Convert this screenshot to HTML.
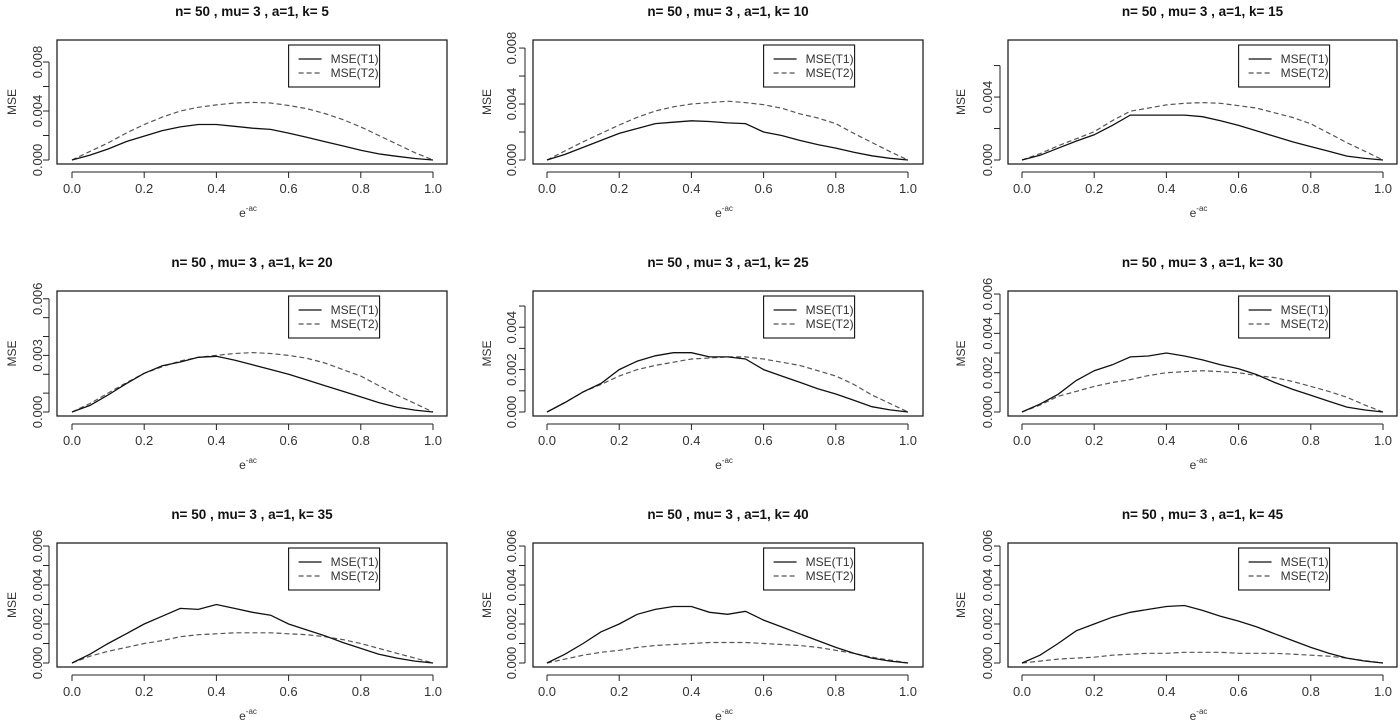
<!DOCTYPE html>
<html><head><meta charset="utf-8"><style>
html,body{margin:0;padding:0;background:#fff;}
svg{display:block;font-family:"Liberation Sans",Arial,sans-serif;}
</style></head><body>
<svg id="fig" width="1400" height="727" viewBox="0 0 1400 727"></svg>
<script>
const kValues = [5,10,15,20,25,30,35,40,45];
const xGrid = [0,0.05,0.1,0.15,0.2,0.25,0.3,0.35,0.4,0.45,0.5,0.55,0.6,0.65,0.7,0.75,0.8,0.85,0.9,0.95,1];
// values in units of 0.001
const t1Series = [
 [0,0.4,0.9,1.5,1.95,2.4,2.7,2.9,2.9,2.75,2.6,2.5,2.2,1.85,1.5,1.15,0.8,0.5,0.3,0.12,0],
 [0,0.4,0.9,1.4,1.9,2.25,2.6,2.7,2.8,2.75,2.65,2.6,2.0,1.75,1.4,1.1,0.85,0.55,0.3,0.12,0],
 [0,0.3,0.75,1.2,1.6,2.2,2.85,2.85,2.85,2.85,2.75,2.5,2.2,1.85,1.5,1.15,0.85,0.55,0.25,0.1,0],
 [0,0.35,0.9,1.5,2.05,2.45,2.65,2.9,2.95,2.75,2.5,2.25,2.0,1.7,1.4,1.1,0.8,0.5,0.25,0.1,0],
 [0,0.45,0.95,1.35,2.0,2.4,2.65,2.8,2.8,2.6,2.6,2.5,2.0,1.7,1.4,1.1,0.85,0.55,0.25,0.1,0],
 [0,0.4,0.9,1.6,2.1,2.4,2.8,2.85,3.0,2.85,2.65,2.4,2.2,1.9,1.5,1.15,0.85,0.55,0.25,0.1,0],
 [0,0.45,1.0,1.5,2.0,2.4,2.8,2.75,3.0,2.8,2.6,2.45,2.0,1.7,1.4,1.05,0.75,0.45,0.25,0.1,0],
 [0,0.45,1.0,1.6,2.0,2.5,2.75,2.9,2.9,2.6,2.5,2.65,2.2,1.85,1.5,1.15,0.8,0.5,0.25,0.1,0],
 [0,0.4,1.0,1.65,2.0,2.35,2.6,2.75,2.9,2.95,2.7,2.4,2.15,1.85,1.5,1.15,0.8,0.5,0.25,0.1,0]
];
const t2Series = [
 [0,0.7,1.4,2.2,2.9,3.5,4.0,4.3,4.5,4.65,4.7,4.65,4.45,4.2,3.8,3.3,2.7,2.0,1.3,0.6,0],
 [0,0.65,1.3,1.9,2.5,3.05,3.5,3.8,4.0,4.1,4.2,4.1,3.95,3.7,3.3,3.0,2.6,1.9,1.25,0.6,0],
 [0,0.4,0.9,1.35,1.8,2.5,3.1,3.3,3.5,3.6,3.65,3.6,3.45,3.3,3.0,2.7,2.3,1.7,1.1,0.55,0],
 [0,0.45,1.0,1.55,2.05,2.4,2.7,2.9,3.0,3.1,3.15,3.1,3.0,2.85,2.6,2.25,1.9,1.4,0.9,0.45,0],
 [0,0.45,0.95,1.3,1.7,2.0,2.2,2.35,2.5,2.55,2.6,2.6,2.5,2.35,2.2,1.95,1.7,1.3,0.8,0.4,0],
 [0,0.35,0.8,1.05,1.3,1.5,1.65,1.85,2.0,2.05,2.1,2.05,2.0,1.85,1.75,1.55,1.3,1.05,0.75,0.35,0],
 [0,0.35,0.6,0.8,1.0,1.15,1.35,1.45,1.5,1.55,1.55,1.55,1.5,1.45,1.35,1.2,1.0,0.75,0.5,0.25,0],
 [0,0.2,0.4,0.55,0.65,0.8,0.9,0.95,1.0,1.05,1.05,1.05,1.0,0.95,0.9,0.8,0.65,0.5,0.3,0.15,0],
 [0,0.1,0.2,0.25,0.3,0.4,0.45,0.5,0.5,0.55,0.55,0.55,0.5,0.5,0.5,0.45,0.4,0.35,0.25,0.12,0]
];
const yDomainMax = [9.47,8.29,7.37,6.2,5.52,5.95,5.95,5.95,5.95];
const yTickMax = [8,8,6,6,5,6,6,6,6];
const yTickStep = [2,2,2,1,1,1,1,1,1];
const yLabelEvery = [4,4,4,3,2,2,2,2,2];
const xTicks = [0,0.2,0.4,0.6,0.8,1.0];
const xTickLabels = ["0.0","0.2","0.4","0.6","0.8","1.0"];

const NS="http://www.w3.org/2000/svg";
const svg=document.getElementById('fig');
function mk(tag,attrs,parent){const e=document.createElementNS(NS,tag);for(const k in attrs)e.setAttribute(k,attrs[k]);(parent||svg).appendChild(e);return e;}
const colBox=[[57,447,72,433],[533,923,547,908],[1008,1397,1022,1383]];
const rowBox=[[40,164],[291,416],[543,667]];
const colMseX=[12,487,961], colTickLblX=[38,512,988];

for(let p=0;p<9;p++){
  const c=p%3,r=Math.floor(p/3);
  const [bl,br,x0,x1]=colBox[c];const [bt,bb]=rowBox[r];
  const y0=bb-4, yTopPix=bt+4;
  const xs=v=>x0+v*(x1-x0);
  const ys=v=>y0-v/yDomainMax[p]*(y0-yTopPix);
  const g=mk('g',{});
  
  
  const t=mk('text',{x:(bl+br)/2,y:bt-24,'text-anchor':'middle','font-size':'13.5','font-weight':'bold',fill:'#111'},g);
  t.textContent='n= 50 , mu= 3 , a=1, k= '+kValues[p];
  
  
  const box=mk('rect',{x:bl,y:bt,width:br-bl,height:bb-bt,fill:'none',stroke:'#111','stroke-width':1.2},g);
  
  
  const xa=mk('g',{},g);
  
  
  mk('line',{x1:xs(0),x2:xs(1),y1:bb+8,y2:bb+8,stroke:'#222'},xa);
  xTicks.forEach((v,i)=>{
    mk('line',{x1:xs(v),x2:xs(v),y1:bb+8,y2:bb+14,stroke:'#222'},xa);
    const tl=mk('text',{x:xs(v),y:bb+29,'text-anchor':'middle','font-size':'13',fill:'#333'},xa);
    tl.textContent=xTickLabels[i];
    
    
  });
  const xl=mk('text',{x:(bl+br)/2-4,y:bb+53,'text-anchor':'middle','font-size':'12',fill:'#333'},g);
  xl.innerHTML='e<tspan dy="-6" font-size="8">-ac</tspan>';
  
  
  const ya=mk('g',{},g);
  
  
  mk('line',{x1:bl-8,x2:bl-8,y1:ys(0),y2:ys(yTickMax[p]),stroke:'#222'},ya);
  for(let v=0;v<=yTickMax[p]+1e-9;v+=yTickStep[p]){
    mk('line',{x1:bl-14,x2:bl-8,y1:ys(v),y2:ys(v),stroke:'#222'},ya);
    if(Math.round(v)%yLabelEvery[p]===0){
      const yl=mk('text',{x:colTickLblX[c],y:ys(v),'text-anchor':'middle','font-size':'13',fill:'#333',transform:`rotate(-90 ${colTickLblX[c]} ${ys(v)})`,dy:'4'},ya);
      yl.textContent=(v/1000).toFixed(3);
      
      
    }
  }
  const ml=mk('text',{x:colMseX[c],y:(bt+bb)/2,'text-anchor':'middle','font-size':'12',fill:'#333',transform:`rotate(-90 ${colMseX[c]} ${(bt+bb)/2})`,dy:'4'},g);
  ml.textContent='MSE';
  
  
  const d1=xGrid.map((x,i)=>(i?'L':'M')+xs(x).toFixed(1)+','+ys(t1Series[p][i]).toFixed(1)).join('');
  const d2=xGrid.map((x,i)=>(i?'L':'M')+xs(x).toFixed(1)+','+ys(t2Series[p][i]).toFixed(1)).join('');
  const l2=mk('path',{d:d2,fill:'none',stroke:'#555','stroke-width':1.2,'stroke-dasharray':'5,3'},g);
  
  
  const l1=mk('path',{d:d1,fill:'none',stroke:'#111','stroke-width':1.3},g);
  
  
  const lx=x0+0.6*(x1-x0), ly=bt+5;
  const lg=mk('g',{},g);
  
  
  mk('rect',{x:lx,y:ly,width:91,height:42,fill:'#fff',stroke:'#111','stroke-width':1.1},lg);
  mk('line',{x1:lx+10,x2:lx+33,y1:ly+14,y2:ly+14,stroke:'#111','stroke-width':1.3},lg);
  mk('line',{x1:lx+10,x2:lx+33,y1:ly+28,y2:ly+28,stroke:'#555','stroke-width':1.2,'stroke-dasharray':'5,3'},lg);
  const e1=mk('text',{x:lx+42,y:ly+18,'font-size':'12',fill:'#333'},lg);
  e1.textContent='MSE(T1)';
  
  
  const e2=mk('text',{x:lx+42,y:ly+32,'font-size':'12',fill:'#333'},lg);
  e2.textContent='MSE(T2)';
  
  
}
</script>
</body></html>
